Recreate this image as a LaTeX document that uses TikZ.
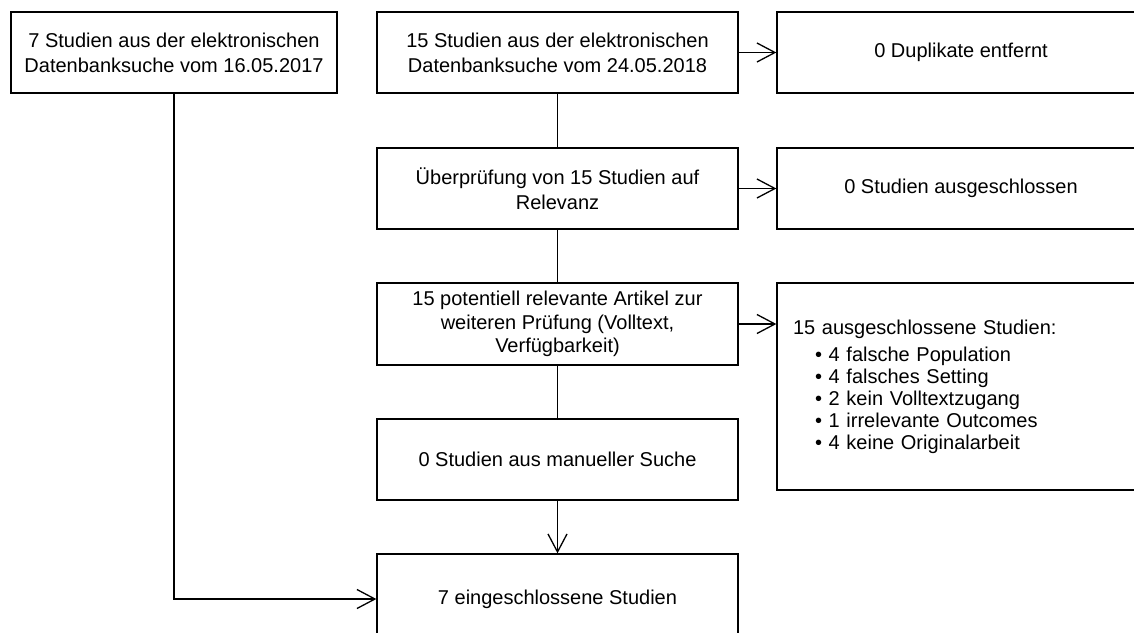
\documentclass[tikz,border=0pt]{standalone}
\usepackage{fontspec}
\setmainfont{Liberation Sans}
\usetikzlibrary{arrows.meta}
\begin{document}
\begin{tikzpicture}[x=1pt,y=-1pt,
  box/.style={draw, line width=1.3pt, rectangle, inner sep=0pt, align=center,
    font=\fontsize{20}{25}\selectfont},
  conn/.style={line width=1.3pt},
  arr/.style={conn, -{Straight Barb[length=18pt,width=19pt,line width=1.3pt]}}]
\useasboundingbox (0,0) rectangle (1134,632);
\clip (0,0) rectangle (1134,632);
\node[box, minimum width=326, minimum height=81] (a) at (174,52.5)
  {7 Studien aus der elektronischen\\Datenbanksuche vom 16.05.2017};
\node[box, minimum width=361, minimum height=81] (b) at (557.5,52.5)
  {15 Studien aus der elektronischen\\Datenbanksuche vom 24.05.2018};
\node[box, minimum width=368, minimum height=81] (c) at (961,52.5)
  {0 Duplikate entfernt};
\node[box, minimum width=361, minimum height=81] (d) at (557.5,188.5)
  {Überprüfung von 15 Studien auf\\Relevanz};
\node[box, minimum width=368, minimum height=81] (e) at (961,188.5)
  {0 Studien ausgeschlossen};
\node[box, minimum width=361, minimum height=82, font=\fontsize{20}{23.5}\selectfont] (f) at (557.5,324)
  {15 potentiell relevante Artikel zur\\weiteren Prüfung (Volltext,\\Verfügbarkeit)};
\node[box, minimum width=361, minimum height=81] (g) at (557.5,459.5)
  {0 Studien aus manueller Suche};
\node[box, text width=336, inner xsep=16pt, minimum height=207, align=left,
  font=\fontsize{20}{22}\selectfont] (h) at (961,386.5)
  {15 ausgeschlossene Studien:\\[5pt]
   \hspace*{22pt}• 4 falsche Population\\
   \hspace*{22pt}• 4 falsches Setting\\
   \hspace*{22pt}• 2 kein Volltextzugang\\
   \hspace*{22pt}• 1 irrelevante Outcomes\\
   \hspace*{22pt}• 4 keine Originalarbeit};
\node[box, minimum width=361, minimum height=90] (i) at (557.5,599)
  {7 eingeschlossene Studien};
\draw[conn] (b.south) -- (d.north);
\draw[conn] (d.south) -- (f.north);
\draw[conn] (f.south) -- (g.north);
\draw[arr] (g.south) -- (i.north);
\draw[arr] (a.south) |- (i.west);
\draw[arr] (b.east) -- (c.west);
\draw[arr] (d.east) -- (e.west);
\draw[arr] (f.east) -- (f.east -| h.west);
\end{tikzpicture}
\end{document}
